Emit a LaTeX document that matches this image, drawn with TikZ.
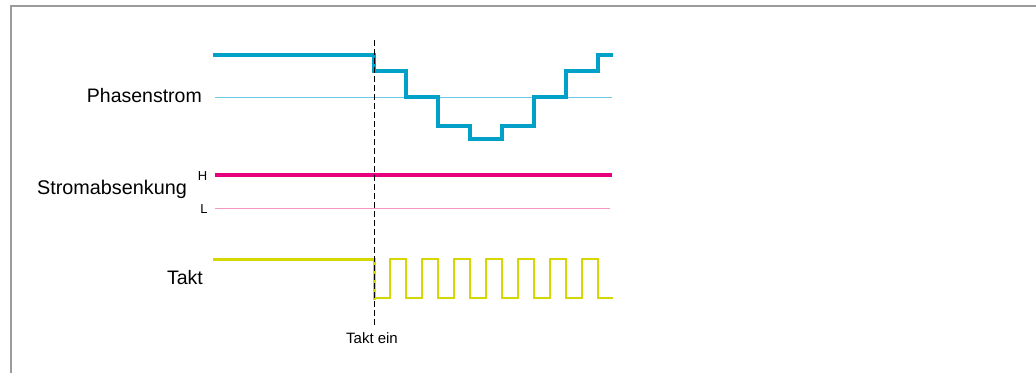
\documentclass[tikz,border=0pt]{standalone}
\usepackage{fontspec}
\setmainfont{Liberation Sans}
\usetikzlibrary{calc}
\definecolor{strom}{RGB}{0,160,200}
\definecolor{stromhell}{RGB}{110,200,228}
\definecolor{absenk}{RGB}{230,0,126}
\definecolor{absenkhell}{RGB}{245,150,195}
\definecolor{takt}{RGB}{215,215,0}
\definecolor{rahmen}{RGB}{155,155,155}

\begin{document}
\begin{tikzpicture} [x=1pt, y=-1pt, line join=miter]
\useasboundingbox (0,0) rectangle (1036,373);
\fill[white] (0,0) rectangle (1036,373);
\draw[rahmen, line width=2] (11,373)--(11,6)--(1036,6);
% Phasenstrom
\node[font=\fontsize{19.5}{22}\selectfont, anchor=east, inner sep=0] (phase) at (202,96) {Phasenstrom};
\draw[stromhell, line width=1] (215,97)--(612,97);
\draw[strom, line width=3.2] (213,55)--(374,55)--(374,71)--(406,71)--(406,97)--(438,97)--(438,126)--(470,126)--(470,139)
  --(502,139)--(502,126)--(534,126)--(534,97)--(566,97)--(566,71)--(598,71)--(598,55)--(613,55);
% Stromabsenkung
\node[font=\fontsize{19.8}{22}\selectfont, anchor=east, inner sep=0] (absenkung) at (187,189) {Stromabsenkung};
\node[font=\fontsize{13}{14}\selectfont, inner sep=0] (high) at (202.5,176) {H};
\node[font=\fontsize{13}{14}\selectfont, inner sep=0] (low) at (204,209) {L};
\draw[absenk, line width=3.2] (215,175)--(612,175);
\draw[absenkhell, line width=1] (215,208)--(610,208);
% Takt
\node[font=\fontsize{19.5}{22}\selectfont, anchor=east, inner sep=0] (taktlabel) at (203,278) {Takt};
\draw[takt, line width=3] (213,259)--(374,259)--(374,298)--(376,298);
\draw[takt, line width=2] (374,298)
  \foreach \x in {0,...,6} {--({390+32*\x},298)--({390+32*\x},259)--({406+32*\x},259)--({406+32*\x},298)}
  --(613,298);
% Takt ein
\node[font=\fontsize{15}{16}\selectfont, inner sep=0] (taktein) at (372,338) {Takt ein};
\coordinate (dashtop) at (374,40);
\draw[black, line width=1, dash pattern=on 6pt off 3pt] (dashtop)--($(taktein.north)+(2,-5)$);
\end{tikzpicture}
\end{document}
